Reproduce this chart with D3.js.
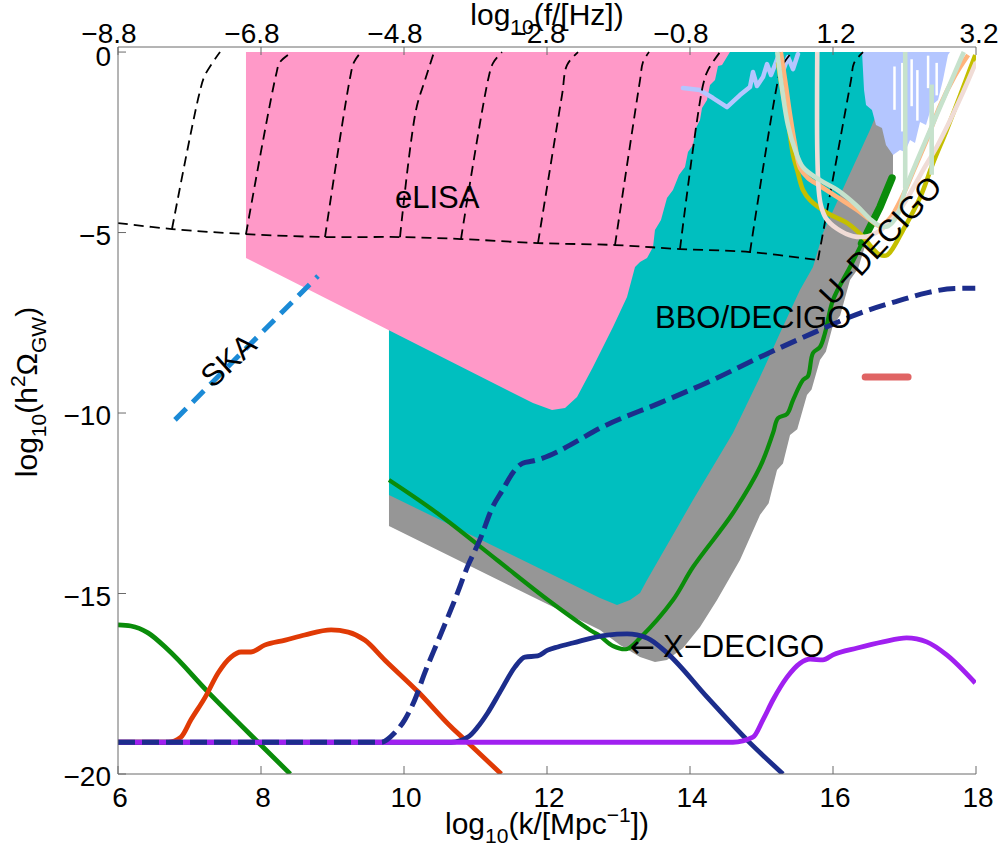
<!DOCTYPE html>
<html><head><meta charset="utf-8">
<script src="https://cdn.jsdelivr.net/npm/d3@7/dist/d3.min.js"></script>
<style>body{margin:0;background:#fff}svg{display:block}text{font-family:"Liberation Sans",Arial,Helvetica,sans-serif}</style>
</head><body>
<svg id="c" width="1001" height="848"></svg>
<script>
// ---------- axis ticks ----------
const kTicks = [6, 8, 10, 12, 14, 16, 18];
const kTickLabels = ["6", "8", "10", "12", "14", "16", "18"];
const fTickLabels = ["−8.8", "−6.8", "−4.8", "−2.8", "−0.8", "1.2", "3.2"];
const yTicks = [-20, -15, -10, -5, 0];
const yTickLabels = ["−20", "−15", "−10", "−5", "0"];

// ---------- sensitivity regions [log10 k, log10 h2Omega] ----------
const grayRegion = [[9.79,-0.693],[9.79,-13.13],[12.741,-16.011],[13.021,-16.427],[13.301,-16.759],[13.51,-16.898],[13.678,-16.842],[13.902,-16.51],[14.14,-15.928],[14.378,-15.18],[14.699,-14.072],[14.979,-12.825],[15.1,-12.5],[15.217,-11.579],[15.3,-11.4],[15.399,-10.609],[15.5,-10.45],[15.636,-9.501],[15.7,-9.35],[15.818,-8.532],[15.9,-8.3],[16.0,-7.562],[16.1,-7.3],[16.238,-6.316],[16.35,-6.0],[16.517,-4.931],[16.6,-4.7],[16.839,-3.407],[16.839,-0.693]];
const cyanRegion = [[9.79,0],[9.79,-12.27],[12.741,-15.125],[12.979,-15.319],[13.161,-15.18],[13.301,-14.986],[13.399,-14.626],[14.042,-12.41],[14.601,-10.554],[14.979,-9.003],[15.259,-7.784],[15.538,-6.593],[15.72,-5.956],[15.86,-5.014],[16.196,-3.546],[16.517,-2.161],[16.825,-0.693],[16.825,0]];
const elisaRegion = [[7.79,0],[14.559,0],[14.448,-0.36],[14.392,-0.388],[14.35,-0.776],[14.28,-0.914],[14.238,-1.33],[14.168,-1.551],[14.14,-1.884],[14.084,-2.105],[14.042,-2.576],[13.972,-2.77],[13.93,-3.186],[13.846,-3.407],[13.762,-3.823],[13.678,-4.044],[13.594,-4.654],[13.51,-4.931],[13.483,-5.402],[13.399,-5.706],[13.301,-5.817],[13.231,-5.956],[13.119,-6.787],[12.923,-7.618],[12.643,-8.726],[12.42,-9.557],[12.252,-9.861],[12.07,-9.917],[11.804,-9.723],[7.79,-5.706]];
const ligoRegion = [[16.406,0],[16.434,-1.053],[16.462,-1.468],[16.545,-1.607],[16.601,-2.022],[16.685,-2.105],[16.741,-2.576],[16.839,-2.853],[16.937,-2.715],[17.007,-2.77],[17.077,-2.438],[17.147,-2.521],[17.217,-1.939],[17.301,-2.022],[17.385,-1.468],[17.469,-1.33],[17.538,-0.776],[17.608,-0.083],[17.636,0]];
const ligoGaps = [[16.86,-0.4,-1.6],[16.97,-0.3,-2.2],[17.1,-0.2,-1.5],[17.18,-0.5,-1.9],[17.33,-0.1,-1.0],[17.45,-0.3,-1.2]];
const ligoLine = [[13.902,-0.997],[14.14,-1.053],[14.322,-1.274],[14.517,-1.524],[14.699,-1.191],[14.839,-0.97],[14.881,-0.554],[14.937,-0.942],[15.021,-0.693],[15.077,-0.332],[15.133,-0.637],[15.231,-0.139],[15.301,-0.526],[15.371,-0.139],[15.441,-0.471],[15.51,-0.055]];

// ---------- black dashed grid of constraints ----------
const dashHorizontal = [[6.0,-4.737],[6.755,-4.903],[7.79,-5.042],[8.895,-5.125],[9.944,-5.125],[10.797,-5.18],[11.874,-5.291],[12.951,-5.346],[13.86,-5.457],[14.839,-5.54],[15.79,-5.762]];
const dashVerticals = [
  [[6.755,-4.903],[7.133,-1.191],[7.217,-0.637],[7.427,0]],
  [[7.79,-5.042],[8.21,-0.637],[8.266,-0.277],[8.434,0]],
  [[8.895,-5.125],[9.245,-0.72],[9.301,-0.277],[9.399,0]],
  [[9.944,-5.125],[10.168,-1.607],[10.294,-0.776],[10.42,0]],
  [[10.797,-5.18],[11.175,-0.776],[11.245,-0.305],[11.371,0]],
  [[11.874,-5.291],[12.21,-1.191],[12.28,-0.36],[12.434,0]],
  [[12.951,-5.346],[13.301,-0.776],[13.343,-0.277],[13.427,0]],
  [[13.86,-5.457],[14.182,-0.914],[14.252,-0.499],[14.42,0]],
  [[14.839,-5.54],[15.231,-0.776],[15.287,-0.388],[15.427,0]],
  [[15.79,-5.762],[16.252,-0.776],[16.294,-0.305],[16.42,0]]
];

// ---------- detector curves ----------
const uDecigo = [[9.79,-11.856],[10.462,-12.77],[11.301,-14.072],[12.014,-15.18],[12.601,-16.011],[12.741,-16.177],[12.923,-16.454],[13.119,-16.537],[13.301,-16.233],[13.762,-15.18],[14.042,-14.266],[14.601,-12.77],[14.979,-11.496],[15.161,-10.554],[15.231,-10.139],[15.357,-10.028],[15.441,-9.64],[15.58,-9.086],[15.65,-8.975],[15.72,-8.338],[15.818,-8.172],[15.888,-7.784],[16.0,-6.87],[16.238,-5.956],[16.476,-5.014],[16.657,-4.294],[16.825,-3.49]];
const uDecigoTop = [[16.4,-5.3],[16.476,-5.014],[16.657,-4.294],[16.825,-3.49]];
const aligoOlive = [[15.23,-0.28],[15.3,-1.16],[15.37,-1.91],[15.44,-2.83],[15.5,-3.27],[15.58,-3.82],[15.68,-4.1],[15.92,-4.46],[16.2,-4.74],[16.42,-5.12],[16.55,-5.43],[16.66,-5.62],[16.76,-5.62],[16.98,-4.93],[17.22,-4.02],[17.4,-3.07],[17.59,-2.16],[17.78,-1.19],[17.99,-0.08]];
const aligoOrange = [[15.27,0],[15.33,-0.78],[15.4,-1.75],[15.47,-2.58],[15.54,-3.21],[15.65,-3.49],[15.82,-3.71],[16.06,-4.02],[16.34,-4.38],[16.52,-4.65],[16.66,-4.82],[16.8,-4.6],[16.98,-3.96],[17.12,-3.32],[17.31,-2.44],[17.5,-1.47],[17.71,-0.64],[17.89,-0.08]];
const aligoBeige = [[15.78,0],[15.78,-2.71],[15.8,-3.82],[15.83,-4.24],[15.9,-4.6],[16.06,-4.9],[16.28,-5.1],[16.49,-5.1],[16.7,-4.88],[16.9,-4.46],[17.08,-3.91],[17.26,-3.27],[17.45,-2.63],[17.64,-1.88],[17.82,-1.11],[18.0,-0.28]];
const aligoGreen = [[15.22,0],[15.29,-1.05],[15.37,-2.02],[15.47,-2.71],[15.58,-3.19],[15.82,-3.55],[16.06,-3.82],[16.34,-4.27],[16.52,-4.63],[16.66,-4.82],[16.77,-4.82],[16.9,-4.52],[17.01,-3.82],[17.15,-3.13],[17.36,-2.16],[17.57,-1.19],[17.78,-0.22],[17.83,0]];
const aligoGreenV1 = [[17.01,0],[17.01,-3.77]];
const aligoGreenV2 = [[17.38,-0.9],[17.38,-3.4]];
const skaLine = [[6.797,-10.19],[8.797,-6.205]];
const redMark = [[16.45,-9.0],[17.05,-9.0]];

// ---------- theoretical spectra ----------
const specGreen = [[6.0,-15.87],[6.18,-15.9],[6.42,-16.09],[6.7,-16.56],[7.26,-17.73],[7.96,-19.12],[8.41,-20.0]];
const specRed = [[6.0,-19.12],[6.7,-19.12],[6.88,-18.98],[7.02,-18.5],[7.22,-17.87],[7.4,-17.2],[7.58,-16.76],[7.72,-16.62],[7.86,-16.62],[8.05,-16.43],[8.34,-16.29],[8.61,-16.15],[8.98,-16.01],[9.22,-16.07],[9.45,-16.29],[9.73,-16.84],[10.2,-17.73],[10.66,-18.7],[10.9,-19.14],[11.36,-20.0]];
const specBlue = [[6.0,-19.12],[10.66,-19.12],[10.9,-18.97],[11.03,-18.7],[11.17,-18.31],[11.36,-17.67],[11.55,-17.04],[11.69,-16.76],[11.87,-16.73],[12.01,-16.57],[12.15,-16.48],[12.36,-16.37],[12.84,-16.15],[13.12,-16.12],[13.4,-16.23],[13.68,-16.65],[14.24,-17.87],[14.8,-19.06],[15.3,-20.0]];
const specPurple = [[6.0,-19.12],[14.6,-19.12],[14.88,-18.98],[15.02,-18.5],[15.16,-17.95],[15.36,-17.31],[15.54,-16.93],[15.68,-16.82],[15.86,-16.84],[16.0,-16.7],[16.34,-16.51],[16.7,-16.34],[17.03,-16.23],[17.31,-16.34],[17.59,-16.7],[17.99,-17.48]];
const specNavyDashed = [[6.0,-19.12],[9.68,-19.12],[9.87,-18.86],[10.01,-18.5],[10.15,-17.95],[10.29,-17.2],[10.48,-16.29],[10.71,-15.18],[10.9,-14.2],[11.06,-13.52],[11.24,-12.6],[11.38,-12.13],[11.52,-11.66],[11.66,-11.39],[11.8,-11.33],[11.94,-11.25],[12.14,-11.08],[12.32,-10.89],[12.74,-10.42],[13.58,-9.72],[14.3,-9.1],[14.98,-8.45],[15.7,-7.8],[16.38,-7.23],[16.9,-6.9],[17.31,-6.67],[17.7,-6.55],[17.99,-6.54]];

// ---------- annotations (data coordinates) ----------
const annotations = [
  {text:"eLISA", k:9.874, v:-4.32, rot:0, anchor:"start"},
  {text:"BBO/DECIGO", k:13.51, v:-7.645, rot:0, anchor:"start"},
  {text:"X−DECIGO", k:13.16, v:-16.76, rot:0, anchor:"start", arrow:"←"},
  {text:"SKA", k:7.538, v:-8.53, rot:-42, anchor:"middle"},
  {text:"U−DECIGO", k:16.657, v:-5.21, rot:-47, anchor:"middle"}
];

// ================= drawing =================
const svg = d3.select("#c");
const L = 118, R = 976, T = 47, B = 774;
const X = d3.scaleLinear().domain([6, 18]).range([L, R]);
const Y = d3.scaleLinear().domain([-20, 0.14]).range([B, T]);

svg.append("defs").append("clipPath").attr("id","clip")
  .append("rect").attr("x",L).attr("y",T).attr("width",R-L).attr("height",B-T);
const g = svg.append("g").attr("clip-path","url(#clip)");

const lin = d3.line().x(d=>X(d[0])).y(d=>Y(d[1]));
const smooth = d3.line().x(d=>X(d[0])).y(d=>Y(d[1])).curve(d3.curveMonotoneX);
const cr = d3.line().x(d=>X(d[0])).y(d=>Y(d[1])).curve(d3.curveCatmullRom.alpha(0.5));

function area(data, color){ g.append("path").attr("d", lin(data)+"Z").attr("fill",color).attr("stroke","none"); }
function stroke(data, gen, color, w, dash, cap){
  const p = g.append("path").attr("d", gen(data)).attr("fill","none").attr("stroke",color)
    .attr("stroke-width",w).attr("stroke-linejoin","round").attr("stroke-linecap",cap||"butt");
  if(dash) p.attr("stroke-dasharray",dash);
  return p;
}

area(grayRegion, "#969696");
area(cyanRegion, "#00bfbf");
area(elisaRegion, "#ff99c8");
area(ligoRegion, "#b4c6ff");
ligoGaps.forEach(s => stroke([[s[0],s[1]],[s[0],s[2]]], lin, "#fff", 2.5));
stroke(ligoLine, lin, "#b4c6ff", 4.5, null, "round");

// black dashed constraint lines
stroke(dashHorizontal, cr, "#000", 1.8, "10,6");
dashVerticals.forEach(v => stroke(v, cr, "#000", 1.8, "10,6"));

// U-DECIGO
stroke(uDecigo, cr, "#0a8c0a", 4.2);
stroke(uDecigoTop, lin, "#0a8c0a", 7.5, null, "round");

// aLIGO-like curves
stroke(aligoOlive, cr, "#c4bf00", 4.6);
stroke(aligoOrange, cr, "#ffb47c", 4.6);
stroke(aligoBeige, cr, "#f0dcd6", 4.6);
stroke(aligoGreen, cr, "#c6e2cc", 4.6);
stroke(aligoGreenV1, lin, "#c6e2cc", 4.6);
stroke(aligoGreenV2, lin, "#c6e2cc", 4.6);

// spectra
stroke(specGreen, smooth, "#0a8c0a", 4.8);
stroke(specRed, smooth, "#e03a05", 4.8);
stroke(specBlue, smooth, "#1c2d8c", 4.8);
stroke(specPurple, smooth, "#a020f0", 4.8);
stroke(specNavyDashed, smooth, "#1c2d8c", 5, "17,7");

stroke(skaLine, lin, "#1b8ad6", 5, "16,9");
stroke(redMark, lin, "#e06464", 7, null, "round");

// annotations
annotations.forEach(a => {
  const t = svg.append("text").attr("font-size",31).attr("fill","#000")
    .attr("text-anchor",a.anchor);
  if(a.arrow){
    t.append("tspan").attr("font-family","DejaVu Sans").attr("font-size",30).text(a.arrow);
    t.append("tspan").attr("dx",8).text(a.text);
  } else {
    t.append("tspan").text(a.text);
  }
  if(a.rot){
    t.attr("transform",`translate(${X(a.k)},${Y(a.v)}) rotate(${a.rot})`).attr("dy","0.36em");
  } else {
    t.attr("x",X(a.k)).attr("y",Y(a.v));
  }
});

// ================= axes =================
const axisColor = "#6a6a6a";
const ax = svg.append("g").attr("stroke",axisColor).attr("stroke-width",1).attr("fill","none");
ax.append("line").attr("x1",L).attr("x2",L).attr("y1",T).attr("y2",B);
ax.append("line").attr("x1",L).attr("x2",R).attr("y1",B).attr("y2",B);
ax.append("line").attr("x1",L).attr("x2",R).attr("y1",T).attr("y2",T);
kTicks.forEach(k => {
  ax.append("line").attr("x1",X(k)).attr("x2",X(k)).attr("y1",B).attr("y2",B-8);
  ax.append("line").attr("x1",X(k)).attr("x2",X(k)).attr("y1",T).attr("y2",T+8);
});
yTicks.forEach(v => {
  ax.append("line").attr("x1",L).attr("x2",L+8).attr("y1",Y(v)).attr("y2",Y(v));
});

const lab = svg.append("g").attr("font-size",28).attr("fill","#000");
kTicks.forEach((k,i) => {
  lab.append("text").attr("x",X(k)+2).attr("y",B+33).attr("text-anchor","middle").text(kTickLabels[i]);
  const neg = fTickLabels[i].startsWith("−");
  lab.append("text").attr("x",X(k)+(neg?-9:3)).attr("y",T-4).attr("text-anchor","middle").text(fTickLabels[i]);
});
yTicks.forEach((v,i) => {
  lab.append("text").attr("x",L-7).attr("y",Y(v)+(v===0?14:12)).attr("text-anchor","end").text(yTickLabels[i]);
});

// axis titles
const xt = svg.append("text").attr("font-size",30).attr("x",(L+R)/2).attr("y",834).attr("text-anchor","middle");
xt.append("tspan").text("log");
xt.append("tspan").attr("font-size",21).attr("dy",9).text("10");
xt.append("tspan").attr("dy",-9).text("(k/[Mpc");
xt.append("tspan").attr("font-size",21).attr("dy",-12).text("−1");
xt.append("tspan").attr("dy",12).text("])");

const tt = svg.append("text").attr("font-size",30).attr("x",(L+R)/2).attr("y",25).attr("text-anchor","middle");
tt.append("tspan").text("log");
tt.append("tspan").attr("font-size",21).attr("dy",9).text("10");
tt.append("tspan").attr("dy",-9).text("(f/[Hz])");

const yt = svg.append("text").attr("font-size",30).attr("text-anchor","middle")
  .attr("transform",`translate(37,392) rotate(-90)`);
yt.append("tspan").text("log");
yt.append("tspan").attr("font-size",21).attr("dy",9).text("10");
yt.append("tspan").attr("dy",-9).text("(h");
yt.append("tspan").attr("font-size",21).attr("dy",-12).text("2");
yt.append("tspan").attr("dy",12).text("Ω");
yt.append("tspan").attr("font-size",21).attr("dy",9).text("GW");
yt.append("tspan").attr("dy",-9).text(")");
</script>
</body></html>
